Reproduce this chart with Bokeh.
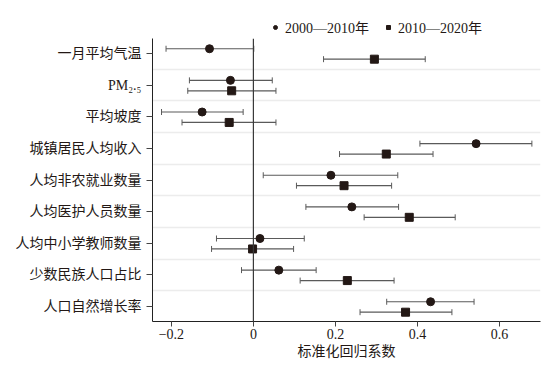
from bokeh.plotting import figure
from bokeh.layouts import column
from bokeh.models import (ColumnDataSource, Range1d, FixedTicker, Whisker, TeeHead,
                          Span, Legend, LegendItem)
from bokeh.embed import file_html
from bokeh.resources import INLINE

categories = ["一月平均气温", "PM₂.₅", "平均坡度", "城镇居民人均收入", "人均非农就业数量",
              "人均医护人员数量", "人均中小学教师数量", "少数民族人口占比", "人口自然增长率"]
series_names = ["2000—2010年", "2010—2020年"]

coef_a = [-0.107, -0.056, -0.125, 0.543, 0.189, 0.240, 0.016, 0.062, 0.432]
lo_a = [-0.213, -0.156, -0.224, 0.406, 0.024, 0.128, -0.090, -0.029, 0.325]
hi_a = [0.001, 0.046, -0.025, 0.679, 0.352, 0.354, 0.124, 0.153, 0.538]

coef_b = [0.295, -0.053, -0.059, 0.324, 0.221, 0.380, -0.002, 0.229, 0.371]
lo_b = [0.171, -0.160, -0.174, 0.210, 0.105, 0.270, -0.102, 0.114, 0.260]
hi_b = [0.419, 0.055, 0.055, 0.438, 0.337, 0.492, 0.098, 0.343, 0.484]

x_ticks = [-0.2, 0, 0.2, 0.4, 0.6]
x_tick_labels = ["−0.2", "0", "0.2", "0.4", "0.6"]
x_axis_label = "标准化回归系数"

INK = "#231815"
BAR = "#5a5a5a"
FONT = "'Liberation Serif', 'Noto Sans CJK SC'"

n = len(categories)
pos = list(range(n))
off_a, off_b = -0.15, 0.18

src_a = ColumnDataSource(dict(y=[p_ + off_a for p_ in pos], x=coef_a, lo=lo_a, hi=hi_a))
src_b = ColumnDataSource(dict(y=[p_ + off_b for p_ in pos], x=coef_b, lo=lo_b, hi=hi_b))

# ---- legend strip (its ranges keep the data out of view; only the legend shows) ----
pl = figure(width=544, height=38, output_backend="svg", toolbar_location=None,
            x_range=Range1d(10, 11), y_range=Range1d(10, 11),
            min_border_left=0, min_border_right=0, min_border_top=0, min_border_bottom=0)
pl.axis.visible = False
pl.grid.visible = False
pl.outline_line_color = None
la = pl.scatter("x", "y", source=src_a, marker="circle", size=8, fill_color=INK, line_color=INK)
lb = pl.scatter("x", "y", source=src_b, marker="square", size=8, fill_color=INK, line_color=INK)
legend = Legend(items=[LegendItem(label=series_names[0], renderers=[la], index=0),
                       LegendItem(label=series_names[1], renderers=[lb], index=0)],
                orientation="horizontal", location=(118, 1),
                glyph_width=10, glyph_height=14, label_height=14, label_standoff=5,
                spacing=14, padding=0, margin=0, border_line_color=None,
                background_fill_alpha=0, label_text_font=FONT,
                label_text_font_size="14px", label_text_color=INK)
pl.add_layout(legend)

# ---- main plot ----
p = figure(width=544, height=325, output_backend="svg", toolbar_location=None,
           x_range=Range1d(-0.246, 0.70), y_range=Range1d(n - 1 + 0.474, -0.474),
           min_border_left=152, min_border_right=4, min_border_top=0, min_border_bottom=42)
p.outline_line_color = None
p.background_fill_color = "white"

p.xgrid.visible = False
p.ygrid.ticker = FixedTicker(ticks=[i + 0.5 for i in range(n - 1)])
p.ygrid.grid_line_color = "#ececec"
p.ygrid.grid_line_width = 1.5

p.add_layout(Span(location=0, dimension="height", line_color="#3a3a3a", line_width=1.2))

for src in (src_a, src_b):
    w = Whisker(source=src, base="y", lower="lo", upper="hi", dimension="width",
                line_color=BAR, line_width=1.2,
                lower_head=TeeHead(size=6, line_color=BAR, line_width=1),
                upper_head=TeeHead(size=6, line_color=BAR, line_width=1))
    p.add_layout(w)

p.scatter("x", "y", source=src_a, marker="circle", size=8, fill_color=INK, line_color=INK)
p.scatter("x", "y", source=src_b, marker="square", size=8, fill_color=INK, line_color=INK)

p.xaxis.ticker = FixedTicker(ticks=x_ticks)
p.xaxis.major_label_overrides = {t: l for t, l in zip(x_ticks, x_tick_labels)}
p.xaxis.axis_label = x_axis_label
p.yaxis.ticker = FixedTicker(ticks=pos)
p.yaxis.major_label_overrides = {i: c for i, c in zip(pos, categories)}
for ax in (p.xaxis, p.yaxis):
    ax.minor_tick_line_color = None
    ax.major_tick_in = 0
    ax.major_tick_out = 6
    ax.axis_line_color = "#222222"
    ax.major_tick_line_color = "#444444"
    ax.major_label_text_font = FONT
    ax.major_label_text_font_size = "14px"
    ax.major_label_text_color = INK
    ax.axis_label_text_font = FONT
    ax.axis_label_text_font_size = "14px"
    ax.axis_label_text_font_style = "normal"
    ax.axis_label_text_color = INK
p.yaxis.major_label_standoff = 5
p.xaxis.major_tick_out = 5
p.xaxis.major_label_standoff = 2
p.xaxis.axis_label_standoff = 2

layout = column(pl, p, spacing=0)
open("out.html", "w").write(file_html(layout, INLINE))
